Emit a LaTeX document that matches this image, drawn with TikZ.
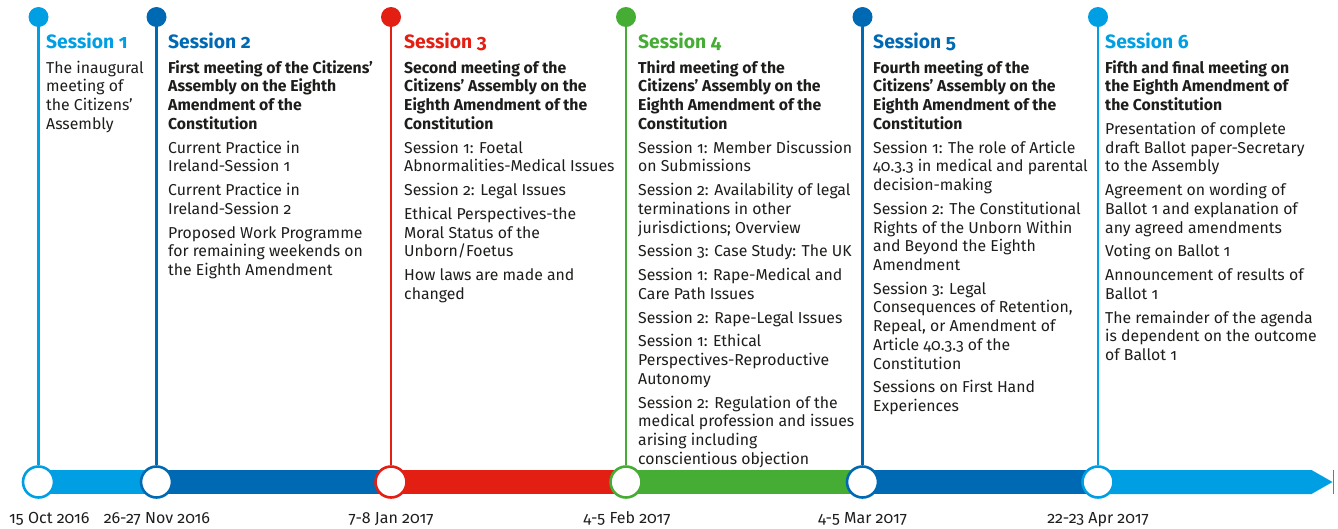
\documentclass[tikz,border=0pt]{standalone}
\usepackage{fontspec}
\setmainfont{Fira Sans}[Numbers={OldStyle,Proportional}]
\definecolor{lblue}{RGB}{0,159,227}
\definecolor{dblue}{RGB}{0,105,180}
\definecolor{sred}{RGB}{227,30,19}
\definecolor{sgreen}{RGB}{69,172,52}
\definecolor{txt}{RGB}{29,29,27}
\newcommand{\firstln}{\rule{0pt}{15pt}}
\begin{document}
\begin{tikzpicture}[x=1pt,y=-1pt,
  topdot/.style={circle,inner sep=0pt,minimum size=20pt,fill=#1},
  botdot/.style={circle,inner sep=0pt,minimum size=31pt,fill=white,draw=#1,line width=2.6pt},
  stem/.style={line width=2.6pt,draw=#1},
  head/.style={anchor=base west,inner sep=0pt,text=#1,font=\fontsize{19.3}{22}\selectfont\bfseries},
  body/.style={anchor=north west,inner sep=0pt,align=left,text=txt,font=\fontsize{15.8}{18.7}\selectfont},
  date/.style={anchor=base,inner sep=0pt,text=txt,font=\fontsize{16}{18}\selectfont}]
\useasboundingbox (0,0) rectangle (1338,528);
% bar
\fill[lblue] (38.5,470) rectangle (156.5,494);
\fill[dblue] (156.5,470) rectangle (391,494);
\fill[sred] (391,470) rectangle (626,494);
\fill[sgreen] (626,470) rectangle (862.5,494);
\fill[dblue] (862.5,470) rectangle (1098,494);
\fill[lblue] (1098,470) -- (1311.5,470) -- (1332.5,482) -- (1311.5,494) -- (1098,494) -- cycle;
\draw[lblue,line width=0.8pt] (1333.5,470) -- (1333.5,494);
% dots
\node[topdot=lblue] (t1) at (38.5,17) {};
\node[topdot=dblue] (t2) at (156.5,17) {};
\node[topdot=sred] (t3) at (391,17) {};
\node[topdot=sgreen] (t4) at (626,17) {};
\node[topdot=dblue] (t5) at (862.5,17) {};
\node[topdot=lblue] (t6) at (1098,17) {};
\node[botdot=lblue] (b1) at (38.5,482) {};
\node[botdot=dblue] (b2) at (156.5,482) {};
\node[botdot=sred] (b3) at (391,482) {};
\node[botdot=sgreen] (b4) at (626,482) {};
\node[botdot=dblue] (b5) at (862.5,482) {};
\node[botdot=lblue] (b6) at (1098,482) {};
\draw[stem=lblue] (t1) -- (b1);
\draw[stem=dblue] (t2) -- (b2);
\draw[stem=sred] (t3) -- (b3);
\draw[stem=sgreen] (t4) -- (b4);
\draw[stem=dblue] (t5) -- (b5);
\draw[stem=lblue] (t6) -- (b6);
% headings
\node[head=lblue] (h1) at (46,48.3) {Session 1};
\node[head=dblue] (h2) at (168,48.3) {Session 2};
\node[head=sred] (h3) at (404,48.3) {Session 3};
\node[head=sgreen] (h4) at (638,48.3) {Session 4};
\node[head=dblue] (h5) at (873,48.3) {Session 5};
\node[head=lblue] (h6) at (1105,48.3) {Session 6};
% bodies
\node[body] (c1) at (46,58) {\firstln The inaugural\\meeting of\\the Citizens’\\Assembly};
\node[body] (c2) at (168,58) {\firstln\textbf{First meeting of the Citizens’}\\\textbf{Assembly on the Eighth}\\\textbf{Amendment of the}\\\textbf{Constitution}\\[5.1pt]
Current Practice in\\Ireland-Session 1\\[5.1pt]
Current Practice in\\Ireland-Session 2\\[5.1pt]
Proposed Work Programme\\for remaining weekends on\\the Eighth Amendment};
\node[body] (c3) at (404,58) {\firstln\textbf{Second meeting of the}\\\textbf{Citizens’ Assembly on the}\\\textbf{Eighth Amendment of the}\\\textbf{Constitution}\\[5.1pt]
Session 1: Foetal\\Abnormalities-Medical Issues\\[5.1pt]
Session 2: Legal Issues\\[5.1pt]
Ethical Perspectives-the\\Moral Status of the\\Unborn/Foetus\\[5.1pt]
How laws are made and\\changed};
\node[body] (c4) at (638,58) {\firstln\textbf{Third meeting of the}\\\textbf{Citizens’ Assembly on the}\\\textbf{Eighth Amendment of the}\\\textbf{Constitution}\\[5.1pt]
Session 1: Member Discussion\\on Submissions\\[5.1pt]
Session 2: Availability of legal\\terminations in other\\jurisdictions; Overview\\[5.1pt]
Session 3: Case Study: The UK\\[5.1pt]
Session 1: Rape-Medical and\\Care Path Issues\\[5.1pt]
Session 2: Rape-Legal Issues\\[5.1pt]
Session 1: Ethical\\Perspectives-Reproductive\\Autonomy\\[5.1pt]
Session 2: Regulation of the\\medical profession and issues\\arising including\\conscientious objection};
\node[body] (c5) at (873,58) {\firstln\textbf{Fourth meeting of the}\\\textbf{Citizens’ Assembly on the}\\\textbf{Eighth Amendment of the}\\\textbf{Constitution}\\[5.1pt]
Session 1: The role of Article\\40.3.3 in medical and parental\\decision-making\\[5.1pt]
Session 2: The Constitutional\\Rights of the Unborn Within\\and Beyond the Eighth\\Amendment\\[5.1pt]
Session 3: Legal\\Consequences of Retention,\\Repeal, or Amendment of\\Article 40.3.3 of the\\Constitution\\[5.1pt]
Sessions on First Hand\\Experiences};
\node[body] (c6) at (1105,58) {\firstln\textbf{Fifth and final meeting on}\\\textbf{the Eighth Amendment of}\\\textbf{the Constitution}\\[5.1pt]
Presentation of complete\\draft Ballot paper-Secretary\\to the Assembly\\[5.1pt]
Agreement on wording of\\Ballot 1 and explanation of\\any agreed amendments\\[5.1pt]
Voting on Ballot 1\\[5.1pt]
Announcement of results of\\Ballot 1\\[5.1pt]
The remainder of the agenda\\is dependent on the outcome\\of Ballot 1};
% dates
\node[date,anchor=base west] (d1) at (9,523) {15 Oct 2016};
\node[date] (d2) at (157,523) {26-27 Nov 2016};
\node[date] (d3) at (391,523) {7-8 Jan 2017};
\node[date] (d4) at (627,523) {4-5 Feb 2017};
\node[date] (d5) at (862.5,523) {4-5 Mar 2017};
\node[date] (d6) at (1098,523) {22-23 Apr 2017};
\end{tikzpicture}
\end{document}
